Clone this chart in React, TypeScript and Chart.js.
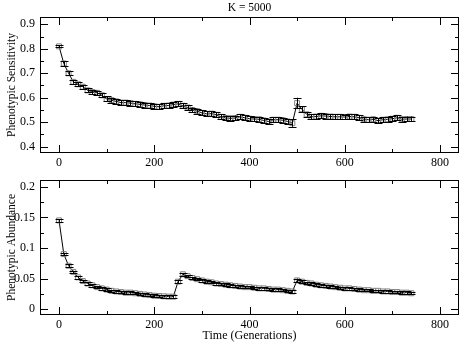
import React, { useEffect, useRef } from 'react';
import { Chart, registerables } from 'chart.js';

Chart.register(...registerables);

const GENERATIONS = [
  0, 10, 20, 30, 40, 50, 60, 70, 80, 90,
  100, 110, 120, 130, 140, 150, 160, 170, 180, 190,
  200, 210, 220, 230, 240, 250, 260, 270, 280, 290,
  300, 310, 320, 330, 340, 350, 360, 370, 380, 390,
  400, 410, 420, 430, 440, 450, 460, 470, 480, 490,
  500, 510, 520, 530, 540, 550, 560, 570, 580, 590,
  600, 610, 620, 630, 640, 650, 660, 670, 680, 690,
  700, 710, 720, 730, 740,
];

const SENSITIVITY = [
  0.81, 0.74, 0.70, 0.665, 0.655, 0.645, 0.63, 0.623, 0.62, 0.61,
  0.595, 0.59, 0.585, 0.58, 0.58, 0.578, 0.575, 0.573, 0.57, 0.568,
  0.565, 0.563, 0.567, 0.568, 0.572, 0.575, 0.567, 0.56, 0.55, 0.545,
  0.538, 0.534, 0.535, 0.53, 0.522, 0.517, 0.516, 0.517, 0.522, 0.518,
  0.514, 0.513, 0.512, 0.507, 0.503, 0.51, 0.51, 0.508, 0.503, 0.496,
  0.578, 0.553, 0.532, 0.522, 0.523, 0.526, 0.525, 0.523, 0.522, 0.522,
  0.521, 0.523, 0.522, 0.518, 0.512, 0.51, 0.512, 0.506, 0.51, 0.512,
  0.514, 0.518, 0.512, 0.513, 0.513,
];

const SENSITIVITY_ERR = [
  0.004, 0.01, 0.009, 0.008, 0.008, 0.008, 0.008, 0.008, 0.009, 0.009,
  0.01, 0.01, 0.01, 0.01, 0.01, 0.01, 0.01, 0.01, 0.01, 0.01,
  0.01, 0.01, 0.01, 0.01, 0.01, 0.01, 0.01, 0.01, 0.01, 0.01,
  0.01, 0.01, 0.01, 0.01, 0.01, 0.01, 0.01, 0.01, 0.01, 0.01,
  0.01, 0.01, 0.01, 0.01, 0.01, 0.01, 0.01, 0.01, 0.01, 0.015,
  0.022, 0.012, 0.01, 0.01, 0.01, 0.01, 0.01, 0.01, 0.01, 0.01,
  0.01, 0.01, 0.01, 0.01, 0.01, 0.01, 0.01, 0.01, 0.01, 0.01,
  0.01, 0.01, 0.01, 0.01, 0.01,
];

const ABUNDANCE = [
  0.145, 0.09, 0.071, 0.061, 0.052, 0.046, 0.042, 0.039, 0.036, 0.034,
  0.032, 0.030, 0.029, 0.028, 0.027, 0.027, 0.026, 0.025, 0.024, 0.023,
  0.022, 0.0215, 0.021, 0.0205, 0.0205, 0.045, 0.057, 0.054, 0.051, 0.049,
  0.047, 0.045, 0.044, 0.042, 0.041, 0.040, 0.039, 0.038, 0.037, 0.036,
  0.036, 0.035, 0.034, 0.034, 0.033, 0.032, 0.032, 0.031, 0.030, 0.029,
  0.047, 0.045, 0.043, 0.042, 0.040, 0.039, 0.038, 0.037, 0.036, 0.035,
  0.034, 0.034, 0.033, 0.032, 0.031, 0.031, 0.030, 0.030, 0.029, 0.029,
  0.028, 0.028, 0.027, 0.027, 0.026,
];

const ABUNDANCE_ERR = [
  0.002, 0.002, 0.002, 0.002, 0.002, 0.002, 0.002, 0.002, 0.002, 0.002,
  0.002, 0.002, 0.002, 0.002, 0.002, 0.002, 0.002, 0.002, 0.002, 0.002,
  0.002, 0.002, 0.002, 0.002, 0.002, 0.003, 0.002, 0.002, 0.002, 0.002,
  0.002, 0.002, 0.002, 0.002, 0.002, 0.002, 0.002, 0.002, 0.002, 0.002,
  0.002, 0.002, 0.002, 0.002, 0.002, 0.002, 0.002, 0.002, 0.002, 0.002,
  0.003, 0.002, 0.002, 0.002, 0.002, 0.002, 0.002, 0.002, 0.002, 0.002,
  0.002, 0.002, 0.002, 0.002, 0.002, 0.002, 0.002, 0.002, 0.002, 0.002,
  0.002, 0.002, 0.002, 0.002, 0.002,
];

const X_TICKS = [0, 200, 400, 600, 800];
const X_MINOR = [100, 300, 500, 700];
const SENS_TICKS = [0.4, 0.5, 0.6, 0.7, 0.8, 0.9];
const SENS_MINOR = [0.45, 0.55, 0.65, 0.75, 0.85];
const ABUND_TICKS = [0, 0.05, 0.1, 0.15, 0.2];
const ABUND_MINOR = [0.025, 0.075, 0.125, 0.175];

const TITLE = 'K = 5000';
const SENS_LABEL = 'Phenotypic Sensitivity';
const ABUND_LABEL = 'Phenotypic Abundance';
const X_LABEL = 'Time (Generations)';

const FONT = "'Liberation Serif', 'Times New Roman', serif";

const framePlugin = {
  id: 'frameTicks',
  afterDraw(chart: any, _args: any, opts: any) {
    const { ctx, chartArea, scales } = chart;
    const { left, right, top, bottom } = chartArea;
    ctx.save();
    ctx.strokeStyle = '#000';
    ctx.lineWidth = 1;
    ctx.strokeRect(left + 0.5, top + 0.5, right - left - 1, bottom - top - 1);
    const xs = scales.x;
    const ys = scales.y;
    ctx.beginPath();
    const xt = (vals: number[], len: number) => {
      vals.forEach((v) => {
        const px = Math.round(xs.getPixelForValue(v)) + 0.5;
        ctx.moveTo(px, bottom);
        ctx.lineTo(px, bottom - len);
        ctx.moveTo(px, top);
        ctx.lineTo(px, top + len);
      });
    };
    const yt = (vals: number[], len: number) => {
      vals.forEach((v) => {
        const py = Math.round(ys.getPixelForValue(v)) + 0.5;
        ctx.moveTo(left, py);
        ctx.lineTo(left + len, py);
        ctx.moveTo(right, py);
        ctx.lineTo(right - len, py);
      });
    };
    xt(opts.xMajor, 8);
    xt(opts.xMinor, 4);
    yt(opts.yMajor, 8);
    yt(opts.yMinor, 4);
    ctx.stroke();
    if (opts.title) {
      ctx.fillStyle = '#000';
      ctx.font = `11.5px ${FONT}`;
      ctx.textAlign = 'center';
      ctx.textBaseline = 'middle';
      ctx.fillText(opts.title, (left + right) / 2, 8);
    }
    ctx.restore();
  },
};

const errorBarPlugin = {
  id: 'errorBars',
  afterDatasetsDraw(chart: any, _args: any, opts: any) {
    const { ctx, scales } = chart;
    const xs = scales.x;
    const ys = scales.y;
    ctx.save();
    ctx.strokeStyle = '#000';
    ctx.lineWidth = 1;
    ctx.beginPath();
    opts.xs.forEach((g: number, i: number) => {
      const px = xs.getPixelForValue(g);
      const hi = ys.getPixelForValue(opts.values[i] + opts.errors[i]);
      const lo = ys.getPixelForValue(opts.values[i] - opts.errors[i]);
      const cx = Math.round(px) + 0.5;
      ctx.moveTo(cx, hi);
      ctx.lineTo(cx, lo);
      ctx.moveTo(cx - 4, Math.round(hi) + 0.5);
      ctx.lineTo(cx + 4, Math.round(hi) + 0.5);
      ctx.moveTo(cx - 4, Math.round(lo) + 0.5);
      ctx.lineTo(cx + 4, Math.round(lo) + 0.5);
    });
    ctx.stroke();
    ctx.restore();
  },
};

function buildConfig(p: {
  values: number[];
  errors: number[];
  yMin: number;
  yMax: number;
  yTicks: number[];
  yMinor: number[];
  yLabel: string;
  xLabel: string | null;
  title: string | null;
  padTop: number;
  xAxisHeight: number;
}): any {
  const zeroPad = (s: any) => {
    s.paddingTop = 0;
    s.paddingBottom = 0;
    s.paddingLeft = 0;
    s.paddingRight = 0;
  };
  return {
    type: 'line',
    data: {
      datasets: [
        {
          data: GENERATIONS.map((g, i) => ({ x: g, y: p.values[i] })),
          borderColor: '#000',
          borderWidth: 1,
          tension: 0,
          pointStyle: 'rect',
          pointRadius: 3.5,
          pointBorderColor: '#808080',
          pointBackgroundColor: 'rgba(0,0,0,0)',
          pointBorderWidth: 1,
        },
      ],
    },
    options: {
      animation: false,
      responsive: true,
      maintainAspectRatio: false,
      layout: { padding: { top: p.padTop, left: 0, right: 2, bottom: 0 } },
      plugins: {
        legend: { display: false },
        tooltip: { enabled: false },
        title: { display: false },
        frameTicks: {
          xMajor: X_TICKS,
          xMinor: X_MINOR,
          yMajor: p.yTicks,
          yMinor: p.yMinor,
          title: p.title,
        },
        errorBars: { xs: GENERATIONS, values: p.values, errors: p.errors },
      },
      scales: {
        x: {
          type: 'linear',
          min: -40,
          max: 840,
          grid: { display: false, drawTicks: false },
          border: { display: false },
          ticks: {
            padding: 3,
            color: '#000',
            font: { family: FONT, size: 12 },
            maxRotation: 0,
            callback: (v: any) => String(v),
          },
          afterBuildTicks: (s: any) => {
            s.ticks = X_TICKS.map((v) => ({ value: v }));
          },
          afterFit: (s: any) => {
            s.height = p.xAxisHeight;
            zeroPad(s);
          },
          title: p.xLabel
            ? {
                display: true,
                text: p.xLabel,
                color: '#000',
                font: { family: FONT, size: 12 },
                padding: { top: 0, bottom: 1 },
              }
            : { display: false },
        },
        y: {
          type: 'linear',
          min: p.yMin,
          max: p.yMax,
          grid: { display: false, drawTicks: false },
          border: { display: false },
          ticks: {
            padding: 5,
            color: '#000',
            font: { family: FONT, size: 12 },
            callback: (v: any) => String(v),
          },
          afterBuildTicks: (s: any) => {
            s.ticks = p.yTicks.map((v) => ({ value: v }));
          },
          afterFit: (s: any) => {
            s.width = 40;
            zeroPad(s);
          },
          title: {
            display: true,
            text: p.yLabel,
            color: '#000',
            font: { family: FONT, size: 11.5 },
            padding: { top: 5, bottom: 0 },
          },
        },
      },
    },
    plugins: [framePlugin, errorBarPlugin],
  };
}

function Panel(props: { config: any; top: number; height: number }) {
  const ref = useRef<HTMLCanvasElement | null>(null);
  useEffect(() => {
    if (!ref.current) return;
    const chart = new Chart(ref.current, props.config);
    return () => chart.destroy();
  }, []);
  return (
    <div style={{ position: 'absolute', left: 0, top: props.top, width: 464, height: props.height }}>
      <canvas ref={ref} />
    </div>
  );
}

export default function App() {
  const topConfig = buildConfig({
    values: SENSITIVITY,
    errors: SENSITIVITY_ERR,
    yMin: 0.374,
    yMax: 0.93,
    yTicks: SENS_TICKS,
    yMinor: SENS_MINOR,
    yLabel: SENS_LABEL,
    xLabel: null,
    title: TITLE,
    padTop: 17,
    xAxisHeight: 19,
  });
  const bottomConfig = buildConfig({
    values: ABUNDANCE,
    errors: ABUNDANCE_ERR,
    yMin: -0.0095,
    yMax: 0.211,
    yTicks: ABUND_TICKS,
    yMinor: ABUND_MINOR,
    yLabel: ABUND_LABEL,
    xLabel: X_LABEL,
    title: null,
    padTop: 8,
    xAxisHeight: 29,
  });
  return (
    <div style={{ position: 'fixed', left: 0, top: 0, width: 464, height: 344, background: '#fff' }}>
      <Panel config={topConfig} top={0} height={172} />
      <Panel config={bottomConfig} top={172} height={172} />
    </div>
  );
}
